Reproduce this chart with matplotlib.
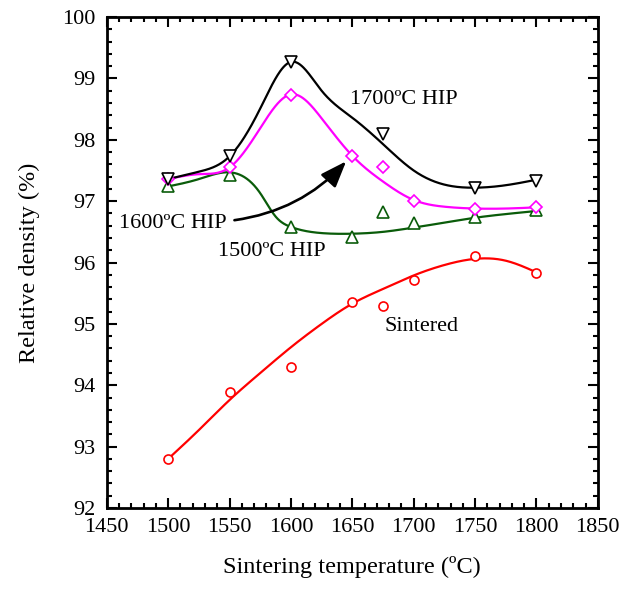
import numpy as np
import matplotlib
matplotlib.use("Agg")
import matplotlib.pyplot as plt
from matplotlib.ticker import MultipleLocator

# ─── Data ─────────────────────────────────────────────────────────
temp_sint   = [1500, 1550, 1600, 1650, 1675, 1700, 1750, 1800]
dens_sint   = [92.80, 93.89, 94.30, 95.36, 95.30, 95.72, 96.10, 95.83]

temp_1500   = [1500, 1550, 1600, 1650, 1675, 1700, 1750, 1800]
dens_1500   = [97.24, 97.43, 96.58, 96.41, 96.83, 96.64, 96.75, 96.86]

temp_1600   = [1500, 1550, 1600, 1650, 1675, 1700, 1750, 1800]
dens_1600   = [97.36, 97.55, 98.73, 97.74, 97.56, 97.01, 96.87, 96.90]

temp_1700   = [1500, 1550, 1600, 1675, 1750, 1800]
dens_1700   = [97.36, 97.73, 99.27, 98.09, 97.22, 97.33]

# smoothed trend lines
fit_temp      = [1500, 1525, 1550, 1575, 1600, 1625, 1650, 1675, 1700, 1725, 1750, 1775, 1800]
fit_sint      = [92.80, 93.27, 93.76, 94.20, 94.62, 95.00, 95.33, 95.57, 95.79, 95.96, 96.06, 96.03, 95.84]
fit_1600      = [97.36, 97.44, 97.55, 98.19, 98.74, 98.35, 97.74, 97.32, 97.02, 96.91, 96.88, 96.88, 96.90]
fit_1700      = [97.36, 97.48, 97.73, 98.51, 99.27, 98.80, 98.36, 97.93, 97.50, 97.27, 97.22, 97.26, 97.35]
fit_1500_temp = [1500, 1525, 1550, 1575, 1587.5, 1600, 1625, 1650, 1675, 1700, 1725, 1750, 1775, 1800]
fit_1500      = [97.24, 97.36, 97.47, 97.13, 96.75, 96.58, 96.48, 96.47, 96.50, 96.57, 96.65, 96.73, 96.79, 96.84]


# ─── Helpers ──────────────────────────────────────────────────────
def spline(x, y, xn):
    """natural cubic spline, keeps the trend lines C2-smooth"""
    x, y = np.asarray(x, float), np.asarray(y, float)
    n = len(x)
    h = np.diff(x)
    A = np.zeros((n, n))
    r = np.zeros(n)
    A[0, 0] = A[-1, -1] = 1.0
    for k in range(1, n - 1):
        A[k, k - 1] = h[k - 1]
        A[k, k] = 2 * (h[k - 1] + h[k])
        A[k, k + 1] = h[k]
        r[k] = 6 * ((y[k + 1] - y[k]) / h[k] - (y[k] - y[k - 1]) / h[k - 1])
    M = np.linalg.solve(A, r)

    xn = np.asarray(xn, float)
    i = np.clip(np.searchsorted(x, xn) - 1, 0, n - 2)
    a = x[i + 1] - xn
    b = xn - x[i]
    hi = h[i]
    return (M[i] * a**3 / (6 * hi) + M[i + 1] * b**3 / (6 * hi)
            + (y[i] / hi - M[i] * hi / 6) * a
            + (y[i + 1] / hi - M[i + 1] * hi / 6) * b)


plt.rcParams["font.family"] = ["Liberation Serif", "DejaVu Serif"]

fig = plt.figure(figsize=(6.28, 5.89), dpi=100)
ax = fig.add_axes([0.170, 0.1375, 0.782, 0.8335])

xs = np.linspace(1500, 1800, 600)
mk = dict(mfc="white", mew=1.2, ls="none")

series = [
    (fit_temp,      fit_sint, temp_sint, dens_sint, "#ff0000", "o", 6.5),
    (fit_1500_temp, fit_1500, temp_1500, dens_1500, "#0a5c0a", "^", 8),
    (fit_temp,      fit_1600, temp_1600, dens_1600, "#ff00ff", "D", 6.5),
    (fit_temp,      fit_1700, temp_1700, dens_1700, "#000000", "v", 8),
]
for fx, fy, px, py, col, m, ms in series:
    ax.plot(xs, spline(fx, fy, xs), color=col, lw=1.6, zorder=2)
    ax.plot(px, py, marker=m, ms=ms, mec=col, zorder=3, **mk)

# ─── Annotations ──────────────────────────────────────────────────
fs = 16
ax.text(1648, 98.58, "1700ºC HIP", fontsize=fs, va="baseline")
ax.text(1460, 96.57, "1600ºC HIP", fontsize=fs, va="baseline")
ax.text(1541, 96.10, "1500ºC HIP", fontsize=fs, va="baseline")
ax.text(1676, 94.89, "Sintered", fontsize=fs, va="baseline")
ax.annotate("", xy=(1645, 97.65), xytext=(1554, 96.69),
            arrowprops=dict(arrowstyle="-|>,head_length=0.8,head_width=0.3",
                            mutation_scale=20, color="black", lw=1.9,
                            shrinkA=0, shrinkB=0,
                            connectionstyle="arc3,rad=0.18"))

# ─── Axes styling ─────────────────────────────────────────────────
ax.set_xlim(1450, 1850)
ax.set_ylim(92, 100)
ax.xaxis.set_major_locator(MultipleLocator(50))
ax.xaxis.set_minor_locator(MultipleLocator(10))
ax.yaxis.set_major_locator(MultipleLocator(1))
ax.yaxis.set_minor_locator(MultipleLocator(0.2))
ax.tick_params(which="both", direction="in", top=True, right=True,
               labelsize=16, width=1.5)
ax.tick_params(which="major", length=7)
ax.tick_params(which="minor", length=3.5)
ax.tick_params(axis="y", pad=8)
ax.tick_params(axis="x", pad=7)
for sp in ax.spines.values():
    sp.set_linewidth(2.0)

ax.set_xlabel("Sintering temperature (ºC)", fontsize=17.5, labelpad=14)
ax.set_ylabel("Relative density (%)", fontsize=17.5, labelpad=16)

fig.savefig("out.png", dpi=100)
